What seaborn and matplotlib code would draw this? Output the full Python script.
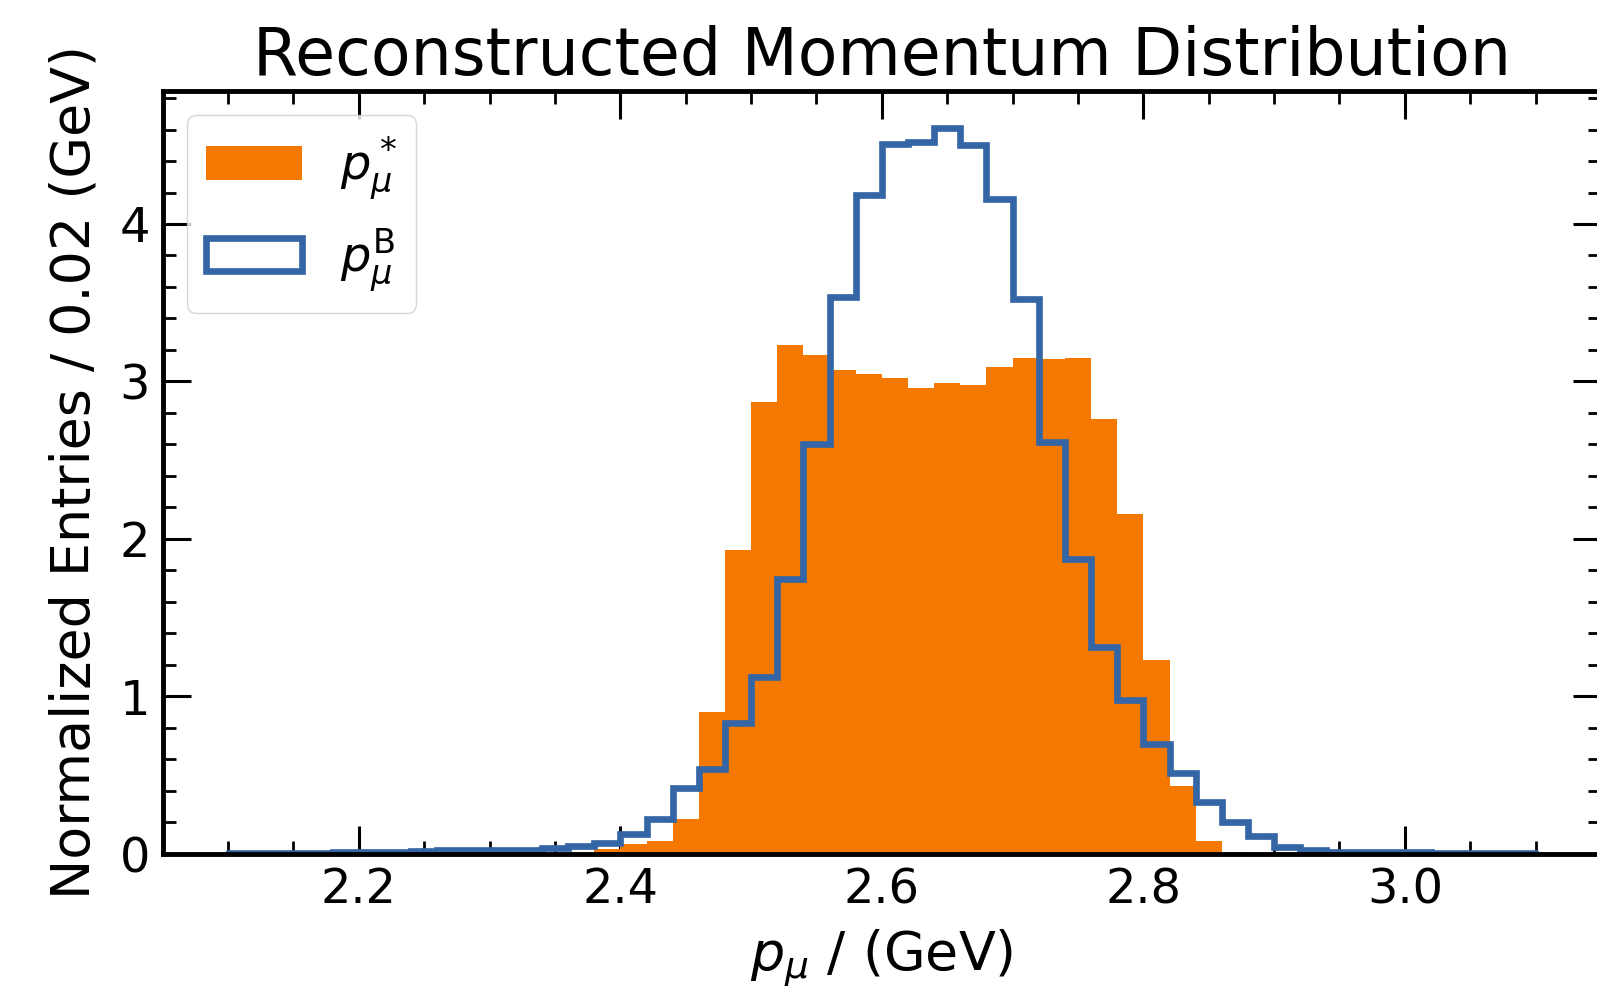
import numpy as np
import pandas as pd
import matplotlib
matplotlib.use("Agg")
import matplotlib.pyplot as plt
import seaborn as sns
from matplotlib.patches import Patch
from matplotlib.ticker import MultipleLocator

# ---------------- data ----------------
bin_edges = np.linspace(2.10, 3.10, 51)          # 50 bins of 0.02 GeV
bin_centers = 0.5 * (bin_edges[:-1] + bin_edges[1:])

p_star = [0.0, 0.0, 0.0, 0.0, 0.0, 0.0, 0.0, 0.0, 0.0, 0.0,
          0.0, 0.0, 0.0, 0.005, 0.03, 0.06, 0.08, 0.22, 0.90, 1.93,
          2.87, 3.23, 3.17, 3.07, 3.05, 3.02, 2.96, 2.99, 2.98, 3.09,
          3.15, 3.14, 3.15, 2.76, 2.16, 1.23, 0.43, 0.08, 0.01, 0.0,
          0.0, 0.0, 0.0, 0.0, 0.0, 0.0, 0.0, 0.0, 0.0, 0.0]

p_B = [0.004, 0.004, 0.005, 0.006, 0.007, 0.008, 0.010, 0.018, 0.020, 0.022,
       0.024, 0.025, 0.033, 0.045, 0.065, 0.126, 0.219, 0.414, 0.535, 0.831,
       1.121, 1.746, 2.600, 3.534, 4.184, 4.506, 4.518, 4.612, 4.504, 4.156,
       3.523, 2.615, 1.874, 1.312, 0.976, 0.698, 0.509, 0.328, 0.203, 0.111,
       0.039, 0.020, 0.012, 0.010, 0.008, 0.007, 0.006, 0.005, 0.004, 0.004]

labels = [r"$p_\mu^*$", r"$p_\mu^\mathrm{B}$"]
title = "Reconstructed Momentum Distribution"
xlabel = r"$p_\mu$ / (GeV)"
ylabel = "Normalized Entries / 0.02 (GeV)"

ORANGE = "#f57900"
BLUE = "#3465a4"

df = pd.DataFrame({"p": bin_centers, "w_star": p_star, "w_B": p_B})
edges = [float(e) for e in bin_edges]

# ---------------- style ----------------
sns.set_style("ticks")
plt.rcParams["font.family"] = ["DejaVu Sans"]
plt.rcParams["mathtext.fontset"] = "dejavusans"
plt.rcParams["text.color"] = "black"
plt.rcParams["axes.labelcolor"] = "black"
plt.rcParams["xtick.color"] = "black"
plt.rcParams["ytick.color"] = "black"
plt.rcParams["axes.edgecolor"] = "black"

fig = plt.figure(figsize=(15.97, 9.89), dpi=100)
ax = fig.add_axes([0.1019, 0.1370, 0.9006, 0.7706])

sns.histplot(data=df, x="p", weights="w_star", bins=edges, stat="count",
             element="bars", fill=True, color=ORANGE, alpha=1.0,
             linewidth=0, edgecolor="none", ax=ax)
sns.histplot(data=df, x="p", weights="w_B", bins=edges, stat="count",
             element="step", fill=False, color=BLUE, linewidth=4.8,
             solid_joinstyle="miter", ax=ax)

ax.set_xlim(2.05, 3.15)
ax.set_ylim(0, 1.05 * max(p_B))

ax.xaxis.set_major_locator(MultipleLocator(0.2))
ax.xaxis.set_minor_locator(MultipleLocator(0.05))
ax.yaxis.set_major_locator(MultipleLocator(1))
ax.yaxis.set_minor_locator(MultipleLocator(0.2))

ax.tick_params(which="both", direction="in", top=True, right=True,
               colors="black", labelcolor="black")
ax.tick_params(which="major", length=20, width=2.2, labelsize=34.5, pad=9)
ax.tick_params(which="minor", length=9.5, width=2.0)
for s in ax.spines.values():
    s.set_linewidth(3.5)
    s.set_color("black")

ax.set_title(title, fontsize=46.7, color="black", pad=12)
ax.set_xlabel(xlabel, fontsize=38.8, color="black", labelpad=11)
ax.set_ylabel(ylabel, fontsize=38.8, color="black", labelpad=14)

handles = [Patch(facecolor=ORANGE, edgecolor="none"),
           Patch(facecolor="none", edgecolor=BLUE, linewidth=4.8)]
leg = ax.legend(handles, labels, loc="upper left", fontsize=34.5)
for t in leg.get_texts():
    t.set_color("black")

fig.savefig("out.png", dpi=100)
